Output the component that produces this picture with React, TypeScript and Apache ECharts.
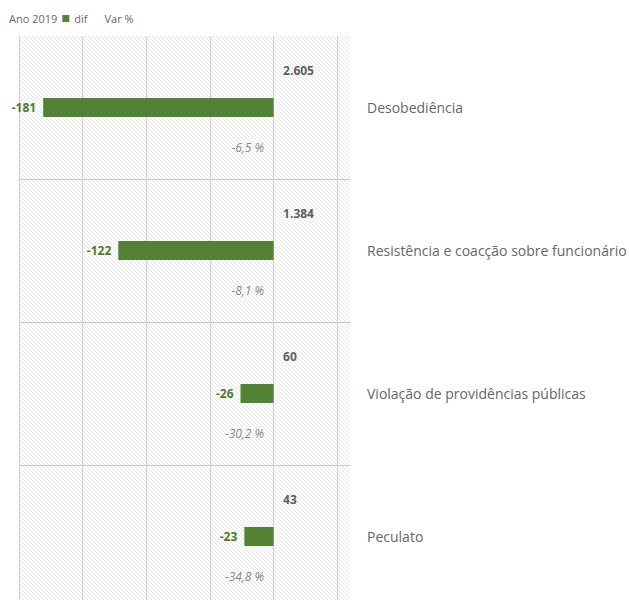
import React, { useEffect, useRef } from "react";
import * as echarts from "echarts";

const categories = [
  "Desobediência",
  "Resistência e coacção sobre funcionário",
  "Violação de providências públicas",
  "Peculato",
];
const ano2019 = [2605, 1384, 60, 43];
const dif = [-181, -122, -26, -23];
const varPct = [-6.5, -8.1, -30.2, -34.8];
const xTicks = [-200, -150, -100, -50, 0, 50];

function fmtThousands(v: number) {
  return String(v).replace(/\B(?=(\d{3})+(?!\d))/g, ".");
}
function fmtPct(v: number) {
  return v.toFixed(1).replace(".", ",") + " %";
}

function makeHatch() {
  const s = 4;
  const c = document.createElement("canvas");
  c.width = s;
  c.height = s;
  const ctx = c.getContext("2d")!;
  ctx.fillStyle = "#ffffff";
  ctx.fillRect(0, 0, s, s);
  ctx.strokeStyle = "#e6e6e6";
  ctx.lineWidth = 1;
  ctx.beginPath();
  ctx.moveTo(-1, -1);
  ctx.lineTo(s + 1, s + 1);
  ctx.stroke();
  return c;
}

export default function App() {
  const ref = useRef<HTMLDivElement>(null);
  useEffect(() => {
    if (!ref.current) return;
    const chart = echarts.init(ref.current, undefined, { renderer: "svg" });
    const hatch = makeHatch();
    const font = "Open Sans";
    const option: any = {
      animation: false,
      textStyle: { fontFamily: font },
      legend: {
        left: -3,
        top: 13,
        padding: 0,
        itemWidth: 7,
        itemHeight: 7,
        itemGap: 5,
        itemTextGap: 3,
        icon: "rect",
        selectedMode: false,
        textStyle: { fontSize: 11, color: "#666", fontFamily: font },
        data: [
          { name: "Ano 2019", itemStyle: { color: "rgba(0,0,0,0)" } },
          { name: "dif", itemStyle: { color: "#548235" } },
          { name: "Var %", itemStyle: { color: "rgba(0,0,0,0)" } },
        ],
      },
      grid: {
        left: 19,
        right: 280,
        top: 36,
        bottom: 0,
        outerBoundsMode: "none",
        show: true,
        borderWidth: 0,
        backgroundColor: { image: hatch, repeat: "repeat" },
      },
      xAxis: {
        type: "value",
        min: -200,
        max: 60,
        interval: 50,
        axisLabel: { show: false },
        axisLine: { show: false },
        axisTick: { show: false },
        splitLine: { show: false },
      },
      yAxis: {
        type: "category",
        data: categories,
        inverse: true,
        position: "right",
        axisLine: { show: false },
        axisTick: { show: false },
        axisLabel: { margin: 17, fontSize: 14, color: "#666", fontFamily: font },
        splitLine: {
          show: true,
          lineStyle: {
            width: 1,
            color: ["rgba(0,0,0,0)", "#c8c8c8", "#c8c8c8", "#c8c8c8", "#c8c8c8"],
          },
        },
      },
      series: [
        {
          name: "Var %",
          type: "scatter",
          z: 1,
          symbolSize: 1,
          itemStyle: { color: "rgba(0,0,0,0)" },
          data: varPct.map((v, i) => ({ value: [0, categories[i], v] })),
          label: {
            show: true,
            position: "left",
            distance: 9,
            offset: [0, 40],
            fontStyle: "italic",
            fontSize: 12,
            color: "#666",
            fontFamily: font,
            formatter: (p: any) => fmtPct(p.value[2]),
          },
          markLine: {
            silent: true,
            z: 1,
            symbol: "none",
            label: { show: false },
            lineStyle: { color: "#d0d0d0", type: "solid", width: 1 },
            data: xTicks.map((v) => ({ xAxis: v })),
          },
        },
        {
          name: "dif",
          type: "bar",
          z: 3,
          barWidth: 19,
          data: dif,
          itemStyle: { color: "#548235" },
          label: {
            show: true,
            position: "left",
            distance: 7,
            fontWeight: "bold",
            fontSize: 12,
            color: "#4e7a2d",
            fontFamily: font,
            formatter: (p: any) => String(p.value),
          },
        },
        {
          name: "Ano 2019",
          type: "scatter",
          z: 4,
          symbolSize: 1,
          itemStyle: { color: "rgba(0,0,0,0)" },
          data: ano2019.map((v, i) => ({ value: [0, categories[i], v] })),
          label: {
            show: true,
            position: "right",
            distance: 9,
            offset: [0, -37],
            fontWeight: "bold",
            fontSize: 12,
            color: "#333",
            fontFamily: font,
            formatter: (p: any) => fmtThousands(p.value[2]),
          },
        },
      ],
    };
    chart.setOption(option);
    return () => chart.dispose();
  }, []);
  return (
    <div
      ref={ref}
      style={{ position: "absolute", left: 0, top: 0, width: 630, height: 608 }}
    />
  );
}
